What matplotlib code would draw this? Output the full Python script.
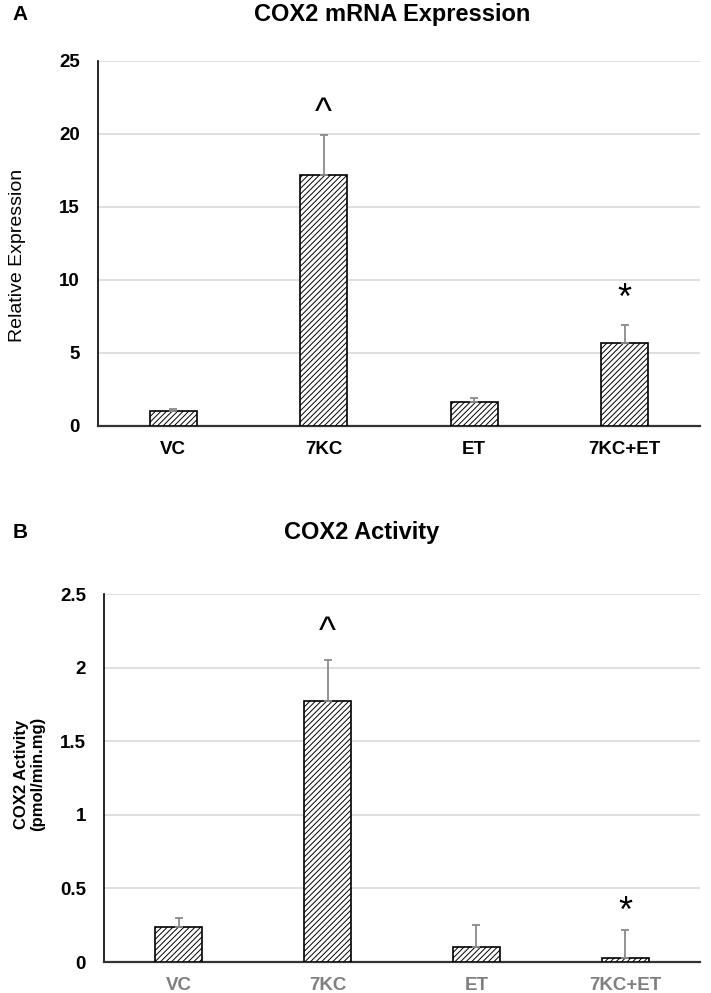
import numpy as np
import matplotlib.pyplot as plt

plt.rcParams['font.family'] = ['Liberation Sans', 'DejaVu Sans']
plt.rcParams['hatch.linewidth'] = 0.7

# dados
grupos = ['VC', '7KC', 'ET', '7KC+ET']

mrna = [1.05, 17.2, 1.65, 5.7]
mrna_erro = [0.12, 2.7, 0.3, 1.2]

atividade = [0.24, 1.77, 0.10, 0.03]
atividade_erro = [0.06, 0.28, 0.15, 0.19]

# marcas de significancia (grupo, simbolo, altura)
marcas_a = [('7KC', '^', 21.4), ('7KC+ET', '*', 8.7)]
marcas_b = [('7KC', '^', 2.24), ('7KC+ET', '*', 0.34)]

fig = plt.figure(figsize=(7.11, 9.93), dpi=100)
ax1 = fig.add_axes([0.1378, 0.571, 0.8467, 0.3676])
ax2 = fig.add_axes([0.1463, 0.0312, 0.8382, 0.3706])

x = np.arange(len(grupos))


def desenha(ax, vals, erros, marcas, ymax, passo, cor_x, pad_x):
    ax.bar(x, vals, width=0.31, color='white', edgecolor='black',
           linewidth=1.2, hatch='//////', zorder=3)
    ax.errorbar(x, vals, yerr=[np.zeros(len(vals)), erros], fmt='none',
                ecolor='#8a8a8a', elinewidth=1.3, capsize=3, capthick=1.3,
                zorder=4)
    for g, s, h in marcas:
        i = grupos.index(g)
        ax.text(i, h, s, ha='center', va='center', fontsize=26, zorder=5)
    ax.set_xlim(-0.5, len(grupos) - 0.5)
    ax.set_ylim(0, ymax)
    ax.set_yticks(np.arange(0, ymax + passo / 2, passo))
    ax.yaxis.grid(True, color='#d9d9d9', linewidth=1.2, zorder=0)
    ax.set_axisbelow(True)
    ax.spines['top'].set_visible(False)
    ax.spines['right'].set_visible(False)
    ax.spines['left'].set_linewidth(1.2)
    ax.spines['bottom'].set_linewidth(1.6)
    ax.spines['bottom'].set_color('#333333')
    ax.tick_params(axis='y', length=0, labelsize=13.5, pad=13)
    ax.tick_params(axis='x', length=0, labelsize=13.5, pad=pad_x)
    ax.set_xticks(x)
    ax.set_xticklabels(grupos, fontweight='bold', color=cor_x)


desenha(ax1, mrna, mrna_erro, marcas_a, 25, 5, 'black', 11)
ax1.set_yticklabels(['0', '5', '10', '15', '20', '25'], fontweight='bold')
ax1.set_ylabel('Relative Expression', fontsize=14)
ax1.yaxis.label.set_va('center')
ax1.yaxis.set_label_coords(-0.133, 0.466)

desenha(ax2, atividade, atividade_erro, marcas_b, 2.5, 0.5, '#7f7f7f', 10.5)
ax2.set_yticklabels(['0', '0.5', '1', '1.5', '2', '2.5'], fontweight='bold')
ax2.set_ylabel('COX2 Activity\n(pmol/min.mg)', fontsize=12, fontweight='bold',
               linespacing=1.1)
ax2.yaxis.label.set_va('center')
ax2.yaxis.set_label_coords(-0.125, 0.51)

fig.text(0.552, 0.985, 'COX2 mRNA Expression', ha='center', va='center',
         fontsize=17, fontweight='bold')
fig.text(0.018, 0.985, 'A', ha='left', va='center', fontsize=15, fontweight='bold')
fig.text(0.508, 0.464, 'COX2 Activity', ha='center', va='center',
         fontsize=17, fontweight='bold')
fig.text(0.018, 0.464, 'B', ha='left', va='center', fontsize=15, fontweight='bold')

fig.savefig('out.png', dpi=100)
